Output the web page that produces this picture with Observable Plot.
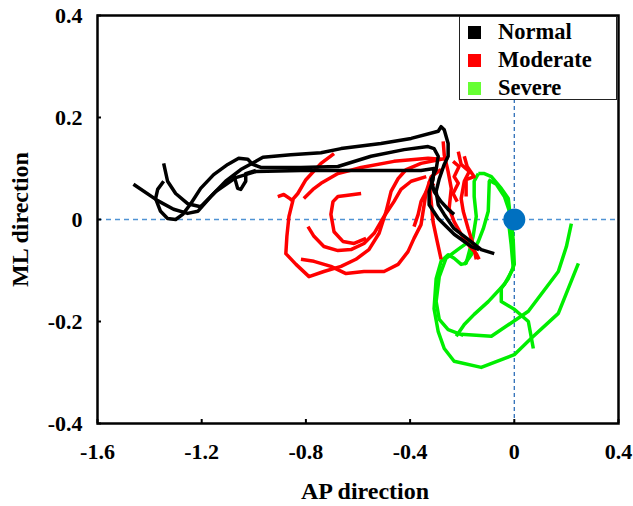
<!DOCTYPE html>
<html><head><meta charset="utf-8">
<script src="https://cdn.jsdelivr.net/npm/d3@7"></script>
<script src="https://cdn.jsdelivr.net/npm/@observablehq/plot@0.6"></script>
<style>
body{margin:0;background:#fff;}
#wrap{position:relative;width:633px;height:506px;font-family:"Liberation Serif","Times New Roman",serif;}
#legend{position:absolute;left:459px;top:16px;width:158px;height:84px;background:#fff;border:1px solid #222;box-sizing:border-box;font-weight:bold;font-size:22.5px;}
#legend .row{position:absolute;left:0;height:26px;display:flex;align-items:center;}
#legend .sw{width:13px;height:13px;margin-left:8px;margin-right:17px;}
</style></head>
<body><div id="wrap"></div>
<script>
// Tick values and labels
const xTicks = [-1.6, -1.2, -0.8, -0.4, 0, 0.4];
const xTickLabels = ["-1.6", "-1.2", "-0.8", "-0.4", "0", "0.4"];
const yTicks = [-0.4, -0.2, 0, 0.2, 0.4];
const yTickLabels = ["-0.4", "-0.2", "0", "0.2", "0.4"];
const groups = ["Normal", "Moderate", "Severe"];
const groupColors = ["#000000", "#ff0000", "#00ee00"];
const legendColors = ["#000000", "#ff0000", "#66ff33"];
const origin = [[0, 0]];

// Normal trajectories (AP, ML)
const normalA = [[-1.462,0.069],[-1.369,0.037],[-1.308,0.020],[-1.254,0.012],[-1.215,0.016],[-1.165,0.045],[-1.108,0.075],[-1.050,0.098],[-0.992,0.114],[-0.965,0.122],[-0.858,0.127],[-0.742,0.131],[-0.665,0.139],[-0.512,0.149],[-0.396,0.159],[-0.292,0.173],[-0.281,0.182],[-0.269,0.176],[-0.254,0.149],[-0.254,0.124],[-0.269,0.108],[-0.288,0.080],[-0.300,0.055],[-0.292,0.029],[-0.269,0.010],[-0.231,-0.018],[-0.177,-0.039],[-0.127,-0.059],[-0.077,-0.067]];
const normalB = [[-1.346,0.110],[-1.331,0.075],[-1.300,0.051],[-1.254,0.031],[-1.204,0.025],[-1.146,0.055],[-1.069,0.082],[-0.992,0.094],[-0.819,0.096],[-0.588,0.096],[-0.358,0.096],[-0.308,0.100],[-0.312,0.078],[-0.327,0.055],[-0.327,0.029],[-0.292,0.002],[-0.231,-0.029],[-0.165,-0.053],[-0.135,-0.059]];
const normalC = [[-1.346,0.075],[-1.369,0.059],[-1.377,0.041],[-1.358,0.016],[-1.331,0.002],[-1.300,0.000],[-1.273,0.010],[-1.242,0.031],[-1.204,0.061],[-1.154,0.088],[-1.100,0.108],[-1.058,0.120],[-1.023,0.118],[-1.004,0.108],[-0.973,0.102],[-0.819,0.102],[-0.677,0.104],[-0.550,0.124],[-0.423,0.137],[-0.331,0.143],[-0.308,0.139],[-0.292,0.124],[-0.300,0.098],[-0.319,0.078],[-0.308,0.055],[-0.281,0.035],[-0.254,0.020],[-0.231,0.010]];
const normalD = [[-1.077,0.088],[-1.062,0.061],[-1.050,0.059],[-1.031,0.075],[-1.031,0.090],[-0.992,0.096]];

// Moderate trajectories
const moderateA = [[-0.908,0.045],[-0.885,0.049],[-0.850,0.037],[-0.865,0.006],[-0.873,-0.033],[-0.877,-0.067],[-0.838,-0.088],[-0.788,-0.112],[-0.731,-0.102],[-0.665,-0.092],[-0.608,-0.078],[-0.558,-0.059],[-0.519,-0.027],[-0.492,0.016],[-0.473,0.055],[-0.446,0.080],[-0.415,0.098],[-0.358,0.110],[-0.281,0.118],[-0.254,0.120]];
const moderateB = [[-0.858,0.035],[-0.831,0.051],[-0.800,0.078],[-0.742,0.110],[-0.692,0.129]];
const moderateC = [[-0.808,0.041],[-0.773,0.059],[-0.742,0.071],[-0.677,0.090],[-0.588,0.102],[-0.462,0.114],[-0.331,0.120],[-0.281,0.118]];
const moderateD = [[-0.588,0.051],[-0.646,0.047],[-0.677,0.045],[-0.696,0.035],[-0.704,0.010],[-0.692,-0.024],[-0.658,-0.043],[-0.615,-0.047],[-0.569,-0.037]];
const moderateE = [[-0.792,-0.014],[-0.769,-0.033],[-0.731,-0.053],[-0.677,-0.061],[-0.627,-0.059],[-0.577,-0.047],[-0.538,-0.027],[-0.500,0.006],[-0.462,0.035],[-0.435,0.059],[-0.396,0.075],[-0.338,0.084]];
const moderateF = [[-0.819,-0.078],[-0.769,-0.082],[-0.704,-0.092],[-0.646,-0.106],[-0.577,-0.102],[-0.500,-0.102],[-0.446,-0.088],[-0.408,-0.063],[-0.385,-0.037],[-0.358,-0.010],[-0.346,0.029],[-0.338,0.055],[-0.308,0.071]];
const moderateG = [[-0.273,0.153],[-0.269,0.127],[-0.254,0.094],[-0.242,0.061],[-0.250,0.022],[-0.231,-0.004],[-0.204,-0.029],[-0.177,-0.049],[-0.146,-0.067],[-0.135,-0.078]];
const moderateH = [[-0.215,0.133],[-0.204,0.108],[-0.173,0.094],[-0.192,0.075],[-0.204,0.041],[-0.196,0.016],[-0.177,-0.018],[-0.158,-0.049],[-0.146,-0.078]];
const moderateI = [[-0.235,0.114],[-0.212,0.104],[-0.231,0.084],[-0.215,0.071],[-0.235,0.051],[-0.219,0.035]];
const moderateJ = [[-0.192,0.124],[-0.181,0.104],[-0.154,0.084],[-0.185,0.078],[-0.185,0.045]];
const moderateK = [[-0.281,0.098],[-0.319,0.084],[-0.338,0.055],[-0.358,0.035],[-0.369,0.010],[-0.385,-0.014]];
const moderateL = [[-0.327,0.075],[-0.319,0.035],[-0.312,-0.004],[-0.296,-0.043],[-0.281,-0.078]];

// Severe trajectories
const severeA = [[-0.138,0.090],[-0.115,0.090],[-0.088,0.084],[-0.050,0.061],[-0.023,0.041],[-0.019,0.022],[-0.019,-0.018],[-0.012,-0.049],[-0.004,-0.096],[-0.038,-0.127],[-0.100,-0.161],[-0.154,-0.186],[-0.192,-0.206],[-0.223,-0.229]];
const severeB = [[0.246,-0.086],[0.169,-0.184],[0.065,-0.233],[0.000,-0.265],[-0.127,-0.290],[-0.231,-0.278],[-0.269,-0.253],[-0.292,-0.220],[-0.308,-0.175],[-0.300,-0.116],[-0.281,-0.082],[-0.254,-0.069],[-0.231,-0.076],[-0.204,-0.088],[-0.185,-0.086],[-0.173,-0.063],[-0.158,-0.033],[-0.146,0.006],[-0.154,0.045],[-0.154,0.075],[-0.138,0.090]];
const severeC = [[0.219,-0.008],[0.200,-0.053],[0.169,-0.102],[0.054,-0.180],[-0.088,-0.229],[-0.204,-0.225]];
const severeD = [[0.073,-0.253],[0.054,-0.200],[0.000,-0.176],[-0.050,-0.161],[-0.050,-0.135],[-0.023,-0.116],[0.000,-0.088],[-0.004,-0.043],[-0.012,0.006],[-0.038,0.045],[-0.069,0.069],[-0.100,0.078]];
const severeE = [[-0.173,-0.043],[-0.212,-0.057],[-0.262,-0.076],[-0.288,-0.112],[-0.300,-0.161],[-0.288,-0.196],[-0.254,-0.216],[-0.196,-0.227]];
const severeF = [[-0.096,0.075],[-0.100,0.016],[-0.119,-0.018],[-0.138,-0.043],[-0.165,-0.069],[-0.192,-0.088]];

const trajectories = [
  ["Severe", severeA], ["Severe", severeB], ["Severe", severeC], ["Severe", severeD], ["Severe", severeE], ["Severe", severeF],
  ["Moderate", moderateA], ["Moderate", moderateB], ["Moderate", moderateC], ["Moderate", moderateD], ["Moderate", moderateE], ["Moderate", moderateF],
  ["Moderate", moderateG], ["Moderate", moderateH], ["Moderate", moderateI], ["Moderate", moderateJ], ["Moderate", moderateK], ["Moderate", moderateL],
  ["Normal", normalA], ["Normal", normalB], ["Normal", normalC], ["Normal", normalD]
];
const rows = trajectories.flatMap(([g, pts], i) => pts.map(([x, y]) => ({x, y, group: g, id: i})));

const font = {fontFamily: "Liberation Serif, Times New Roman, serif", fontWeight: "bold"};
const chart = Plot.plot({
  width: 633, height: 506,
  marginLeft: 97, marginRight: 15, marginTop: 15, marginBottom: 83,
  x: {domain: [-1.6, 0.4]},
  y: {domain: [-0.4, 0.4]},
  color: {domain: groups, range: groupColors},
  style: {fontFamily: "Liberation Serif, Times New Roman, serif", fontWeight: "bold", fontSize: "22px", color: "#000", background: "#fff"},
  marks: [
    Plot.ruleY([0], {stroke: "#4f93d4", strokeWidth: 1.3, strokeDasharray: "5,4"}),
    Plot.ruleX([0], {stroke: "#2e6fb8", strokeWidth: 1.3, strokeDasharray: "4,3"}),
    Plot.line(rows, {x: "x", y: "y", z: "id", stroke: "group", strokeWidth: 3.5, strokeLinejoin: "round", strokeLinecap: "butt"}),
    Plot.dot(origin, {x: d => d[0], y: d => d[1], r: 11, fill: "#0070c0", stroke: "none"}),
    Plot.axisX(xTicks, {tickSize: 4, inset: 4, tickPadding: 20, strokeWidth: 2, tickFormat: (d, i) => xTickLabels[i], fontSize: 22, ...font, label: null}),
    Plot.axisY(yTicks, {tickSize: 4, inset: 4, tickPadding: 15, strokeWidth: 2, tickFormat: (d, i) => yTickLabels[i], fontSize: 22, ...font, label: null}),
    Plot.frame({stroke: "#000", strokeWidth: 2.5}),
    Plot.text(["AP direction"], {frameAnchor: "bottom", textAnchor: "middle", dx: 7, dy: 75, text: d => d, fontSize: 24, ...font, fill: "#000"}),
    Plot.text(["ML direction"], {frameAnchor: "left", textAnchor: "middle", lineAnchor: "middle", dx: -77, rotate: -90, text: d => d, fontSize: 24, ...font, fill: "#000"})
  ]
});
const wrap = document.getElementById("wrap");
wrap.appendChild(chart);
const legend = document.createElement("div");
legend.id = "legend";
groups.forEach((g, i) => {
  const row = document.createElement("div");
  row.className = "row";
  row.style.top = (2 + i * 28) + "px";
  const sw = document.createElement("div");
  sw.className = "sw";
  sw.style.background = legendColors[i];
  const t = document.createElement("span");
  t.textContent = g;
  row.appendChild(sw); row.appendChild(t);
  legend.appendChild(row);
});
wrap.appendChild(legend);
</script></body></html>
